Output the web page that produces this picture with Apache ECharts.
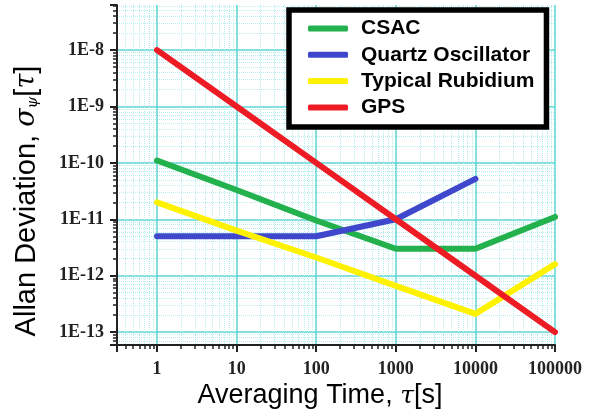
<!DOCTYPE html>
<html>
<head>
<meta charset="utf-8">
<script src="https://cdn.jsdelivr.net/npm/echarts@6/dist/echarts.min.js"></script>
<style>
html, body { margin: 0; padding: 0; background: #fff; }
#chart { width: 598px; height: 414px; }
</style>
</head>
<body>
<div id="chart"></div>
<script>
// averaging time tau [s] and allan deviation for each oscillator
var csacTau = [1, 10, 100, 1000, 10000, 100000];
var csacAdev = [1.1e-10, 3.3e-11, 9.5e-12, 3.0e-12, 3.0e-12, 1.1e-11];

var quartzTau = [1, 100, 1000, 10000];
var quartzAdev = [5.0e-12, 5.0e-12, 1.0e-11, 5.2e-11];

var rubidiumTau = [1, 10, 100, 1000, 10000, 100000];
var rubidiumAdev = [2.0e-11, 6.3e-12, 2.1e-12, 6.6e-13, 2.1e-13, 1.6e-12];

var gpsTau = [1, 10, 100, 1000, 10000, 100000];
var gpsAdev = [1e-8, 1e-9, 1e-10, 1e-11, 1e-12, 1e-13];

var seriesNames = ['CSAC', 'Quartz Oscillator', 'Typical Rubidium', 'GPS'];
var seriesColors = ['#22b14c', '#3f48cc', '#fff200', '#ed1c24'];

function pairs(xs, ys) {
	var out = [];
	for (var i = 0; i < xs.length; i++) {
		out.push([xs[i], ys[i]]);
	}
	return out;
}

function isDecade(v) {
	var e = Math.log10(v);
	return Math.abs(e - Math.round(e)) < 1e-6;
}

var dom = document.getElementById('chart');
var myChart = echarts.init(dom);

var gridColor = '#5cd5d5';
var minorColor = '#b4eeee';

var lineSeries = [
	pairs(csacTau, csacAdev),
	pairs(quartzTau, quartzAdev),
	pairs(rubidiumTau, rubidiumAdev),
	pairs(gpsTau, gpsAdev)
].map(function (d, i) {
	return {
		name: seriesNames[i],
		type: 'line',
		data: d,
		showSymbol: false,
		color: seriesColors[i],
		lineStyle: { width: 6, color: seriesColors[i], cap: 'round', join: 'round' },
		animation: false
	};
});

var option = {
	animation: false,
	backgroundColor: '#fff',
	grid: { left: 117, right: 43, top: 5, bottom: 69 },
	legend: {
		orient: 'vertical',
		left: 289,
		top: 10,
		data: seriesNames,
		icon: 'roundRect',
		itemWidth: 40,
		itemHeight: 6,
		itemGap: 5.3,
		padding: [8, 12, 9, 19],
		backgroundColor: '#fff',
		borderColor: '#000',
		borderWidth: 5.5,
		borderRadius: 0,
		textStyle: {
			fontFamily: 'Liberation Sans, Arial, sans-serif',
			fontWeight: 'bold',
			fontSize: 21,
			lineHeight: 21,
			color: '#000',
			padding: [0, 0, 0, 8]
		}
	},
	xAxis: {
		type: 'log',
		logBase: 10,
		min: 0.314,
		max: 100000,
		axisLine: { lineStyle: { color: '#222', width: 2 } },
		axisTick: { length: 7, lineStyle: { color: '#222', width: 2 } },
		minorTick: { show: true, splitNumber: 9, length: 4, lineStyle: { color: '#222', width: 1.5 } },
		splitLine: { show: true, showMinLine: false, lineStyle: { color: gridColor, width: 1.5 } },
		minorSplitLine: { show: true, lineStyle: { color: minorColor, width: 1, type: 'dotted' } },
		axisLabel: {
			margin: 15,
			fontFamily: 'Liberation Serif, Times New Roman, serif',
			fontWeight: 'bold',
			fontSize: 18,
			color: '#222',
			formatter: function (v) {
				return isDecade(v) ? String(Math.round(v)) : '';
			}
		}
	},
	yAxis: {
		type: 'log',
		logBase: 10,
		min: 5.9e-14,
		max: 6.3e-8,
		axisLine: { lineStyle: { color: '#222', width: 2 } },
		axisTick: { length: 7, lineStyle: { color: '#222', width: 2 } },
		minorTick: { show: true, splitNumber: 9, length: 4, lineStyle: { color: '#222', width: 1.5 } },
		splitLine: { show: true, showMaxLine: false, showMinLine: false, lineStyle: { color: gridColor, width: 1.5 } },
		minorSplitLine: { show: true, lineStyle: { color: minorColor, width: 1, type: 'dotted' } },
		axisLabel: {
			margin: 13,
			fontFamily: 'Liberation Serif, Times New Roman, serif',
			fontWeight: 'bold',
			fontSize: 18,
			color: '#222',
			formatter: function (v) {
				return isDecade(v) ? '1E' + Math.round(Math.log10(v)) : '';
			}
		}
	},
	graphic: [
		{
			type: 'text',
			x: 320,
			y: 396,
			style: {
				text: '{a|Averaging Time, }{m|τ}{a|[s]}',
				align: 'center',
				verticalAlign: 'middle',
				rich: {
					a: { fontFamily: 'Liberation Sans, Arial, sans-serif', fontSize: 27, color: '#000' },
					m: { fontFamily: 'DejaVu Serif, serif', fontStyle: 'italic', fontSize: 25, color: '#000' }
				}
			}
		},
		{
			type: 'text',
			x: 27,
			y: 201,
			rotation: Math.PI / 2,
			style: {
				text: '{a|Allan Deviation, }{m|σ}{s|ψ}{a|[}{m|τ}{a|]}',
				align: 'center',
				verticalAlign: 'middle',
				rich: {
					a: { fontFamily: 'Liberation Sans, Arial, sans-serif', fontSize: 29, color: '#000' },
					m: { fontFamily: 'DejaVu Serif, serif', fontStyle: 'italic', fontSize: 27, color: '#000' },
					s: { fontFamily: 'DejaVu Serif, serif', fontStyle: 'italic', fontSize: 15, color: '#000', padding: [13, 0, 0, 0] }
				}
			}
		}
	],
	series: lineSeries
};

if (option && typeof option === 'object') {
	myChart.setOption(option, true);
}
</script>
</body>
</html>
